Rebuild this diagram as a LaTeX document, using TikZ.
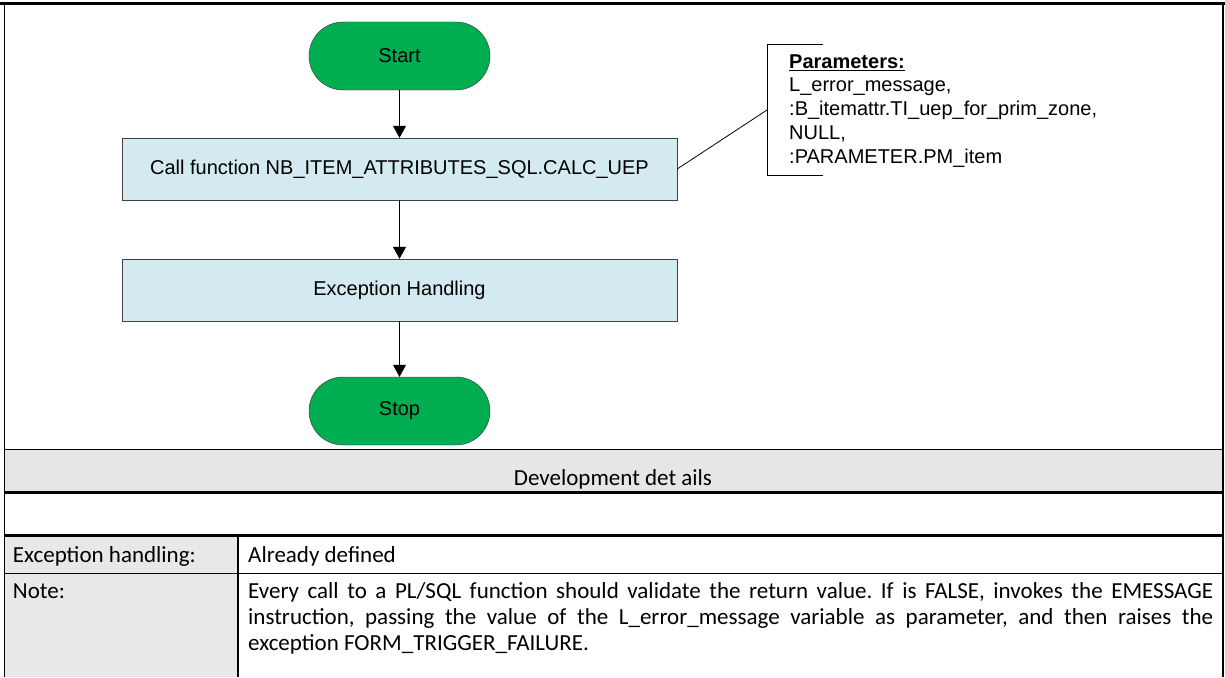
\documentclass[tikz,border=0pt]{standalone}
\usepackage{fontspec}
\setmainfont{Liberation Sans}
\newfontfamily\tablefont{Carlito}
\usetikzlibrary{arrows.meta}
\definecolor{termgreen}{RGB}{0,173,80}
\definecolor{procblue}{RGB}{211,234,240}
\definecolor{headgray}{RGB}{230,230,230}
\definecolor{cellgray}{RGB}{232,232,232}
\frenchspacing
\begin{document}
\begin{tikzpicture}[x=1pt,y=-1pt,
  chartfont/.style={font=\fontsize{20}{23}\selectfont},
  terminal/.style={chartfont, draw=black!80, fill=termgreen, rounded corners=34pt,
    minimum width=181pt, minimum height=68pt, inner sep=0pt},
  process/.style={chartfont, draw=black!75, fill=procblue,
    minimum width=555pt, minimum height=62pt, inner sep=0pt},
  flow/.style={line width=1pt, -{Triangle[length=12pt,width=13pt]}},
  paramline/.style={chartfont, anchor=base west, inner sep=0pt},
  celltext/.style={font=\tablefont\fontsize{23}{26}\selectfont, anchor=base west, inner sep=0pt},
  thinrule/.style={line width=1pt},
  thickrule/.style={line width=2.5pt}]
\useasboundingbox (0,0) rectangle (1225,677);

% table backgrounds
\fill[headgray] (5,449) rectangle (1222,492);
\fill[cellgray] (5,536) rectangle (238,677);

% frame and table rules
\draw[line width=2.5pt] (0,3.5) -- (1225,3.5);
\draw[thinrule] (4.5,3) -- (4.5,677);
\draw[line width=2pt] (1222.5,3) -- (1222.5,677);
\draw[thinrule] (4.5,449) -- (1222,449);
\draw[thickrule] (4.5,492.5) -- (1222,492.5);
\draw[thickrule] (4.5,535.5) -- (1222,535.5);
\draw[thinrule] (4.5,573) -- (1222,573);
\draw[line width=1.5pt] (238,536) -- (238,677);

% flowchart
\node[terminal] (start) at (399.5,56) {Start};
\node[process] (call) at (399.5,169) {Call function NB\_ITEM\_ATTRIBUTES\_SQL.CALC\_UEP};
\node[process] (exc) at (399.5,290) {Exception Handling};
\node[terminal] (stop) at (399.5,411) {Stop};
\draw[flow] (start) -- (call);
\draw[flow] (call) -- (exc);
\draw[flow] (exc) -- (stop);

% parameter annotation
\coordinate (brk) at (767,110);
\draw[line width=0.8pt] (823,44) -- (767,44) -- (767,175) -- (823,175);
\draw[line width=0.8pt] (call.east) -- (brk);
\node[paramline] (p1) at (789,69) {\textbf{\underline{Parameters:}}};
\node[paramline] (p2) at (789,92) {L\_error\_message,};
\node[paramline] (p3) at (789,115.5) {:B\_itemattr.TI\_uep\_for\_prim\_zone,};
\node[paramline] (p4) at (789,139.5) {NULL,};
\node[paramline] (p5) at (789,163) {:PARAMETER.PM\_item};

% development details
\node[celltext, anchor=base] (dev) at (613,485) {Development det ails};
\node[celltext] (exclabel) at (12.7,562) {Exception handling:};
\node[celltext] (excvalue) at (248,562) {Already defined};
\node[celltext] (notelabel) at (12.7,598) {Note:};
\node[celltext, text width=965pt, align=justify] (note1) at (248,598)
  {\parfillskip=0pt Every call to a PL/SQL function should validate the return value. If is FALSE, invokes the EMESSAGE\par};
\node[celltext, text width=965pt, align=justify] (note2) at (248,624)
  {\parfillskip=0pt instruction, passing the value of the L\_error\_message variable as parameter, and then raises the\par};
\node[celltext] (note3) at (248,650) {exception FORM\_TRIGGER\_FAILURE.};
\end{tikzpicture}
\end{document}
